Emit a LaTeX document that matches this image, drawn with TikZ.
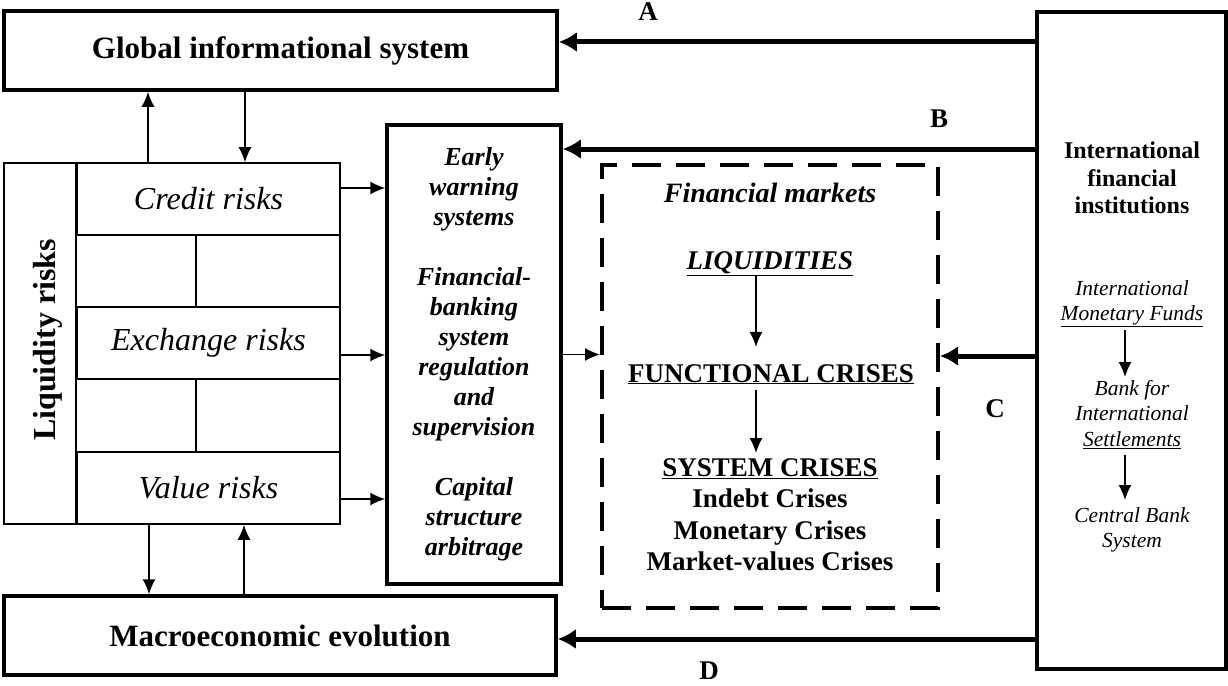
\documentclass[tikz,border=0pt]{standalone}
\usepackage{fontspec}
\setmainfont{Liberation Serif}
\usetikzlibrary{arrows.meta}

\begin{document}
\begin{tikzpicture}[x=1pt,y=-1pt]
	%\draw[help lines] (0,0) grid[step=50] (1228,685);
	\useasboundingbox (0,0) rectangle (1228,685);

	\tikzstyle{bigbox} = [draw,line width=3.5pt,inner sep=0pt]
	\tikzstyle{riskbox} = [draw,line width=1.6pt,inner sep=0pt,minimum width=263pt,minimum height=72pt,font=\fontsize{32}{36}\selectfont\itshape]
	\tikzstyle{vedge} = [-{Latex[length=15pt,width=13pt]},line width=1.5pt]
	\tikzstyle{bigedge} = [-{Latex[length=18pt,width=20pt]},line width=5pt]
	\tikzstyle{vline} = [line width=1.6pt]
	\tikzstyle{letter} = [anchor=base,inner sep=0pt,font=\fontsize{27}{30}\selectfont\bfseries]
	\tikzstyle{crisis} = [inner sep=0pt,font=\fontsize{27}{31.5}\selectfont\bfseries]
	\tikzstyle{smallit} = [inner sep=0pt,align=center,font=\fontsize{21.5}{25.5}\selectfont\itshape]

	\node[bigbox,minimum width=553pt,minimum height=79pt,font=\fontsize{31}{36}\selectfont\bfseries] (glob) at (280.5,50.5) {Global informational system};
	\node[bigbox,minimum width=552pt,minimum height=79pt,font=\fontsize{31}{36}\selectfont\bfseries] (macro) at (280,635.5) {Macroeconomic evolution};
	\node[bigbox,minimum width=189pt,minimum height=657pt] (inst) at (1131.5,340.5) {};
	\node[bigbox,minimum width=174pt,minimum height=459pt,align=center,font=\fontsize{26}{30}\selectfont\bfseries\itshape] (early) at (474,354.5) {Early\\warning\\systems\\[30pt]Financial-\\banking\\system\\regulation\\and\\supervision\\[30pt]Capital\\structure\\arbitrage};
	\node[bigbox,dashed,dash pattern=on 29pt off 15pt,line width=4pt,minimum width=336pt,minimum height=443pt] (market) at (770,386.5) {};

	\node[draw,line width=1.6pt,minimum width=336pt,minimum height=361pt] (liq) at (172,343.5) {};
	\node[rotate=90,inner sep=0pt,font=\fontsize{32}{36}\selectfont\bfseries] (liqtxt) at (48,340) {Liquidity risks};
	\node[riskbox] (credit) at (208.5,199) {Credit risks};
	\node[riskbox] (exch) at (208.5,343) {Exchange risks};
	\node[riskbox] (value) at (208.5,488) {Value risks};

	% financial markets
	\node[anchor=base,inner sep=0pt,font=\fontsize{28}{32}\selectfont\bfseries\itshape] (mtitle) at (770,202) {Financial markets};
	\node[anchor=base,inner sep=0pt,font=\fontsize{27}{30}\selectfont\bfseries\itshape] (liquid) at (770,269) {\underline{LIQUIDITIES}};
	\node[anchor=base,crisis] (funct) at (771,382) {\underline{FUNCTIONAL CRISES}};
	\node[anchor=north,crisis,align=center] (syscris) at (770,458) {\underline{SYSTEM CRISES}\\Indebt Crises\\Monetary Crises\\Market-values Crises};

	% institutions
	\node[anchor=north,inner sep=0pt,align=center,font=\fontsize{24}{27.5}\selectfont\bfseries] (insttxt) at (1132,142) {International\\financial\\institutions};
	\node[anchor=north,smallit] (imf) at (1132,280) {International\\\underline{Monetary Funds}};
	\node[anchor=north,smallit] (bis) at (1132,380) {Bank for\\International\\\underline{Settlements}};
	\node[anchor=north,smallit] (cbs) at (1132,507) {Central Bank\\System};

	\node[letter] (la) at (648,21) {A};
	\node[letter] (lb) at (939,127) {B};
	\node[letter] (lc) at (995,417) {C};
	\node[letter] (ld) at (709,679) {D};

	\draw ([yshift=8.5pt]glob.east -| inst.west) edge [bigedge] ([yshift=8.5pt]glob.east);
	\draw ([yshift=-25.75pt]early.north east -| inst.west) edge [bigedge] ([yshift=-25.75pt]early.north east);
	\draw ([yshift=30.5pt]market.east -| inst.west) edge [bigedge] ([yshift=30.5pt]market.east);
	\draw ([yshift=-3.5pt]macro.east -| inst.west) edge [bigedge] ([yshift=-3.5pt]macro.east);

	\draw ([xshift=-60.5pt]credit.north) edge [vedge] ([xshift=-60.5pt]credit.north |- glob.south);
	\draw ([xshift=36.5pt]credit.north |- glob.south) edge [vedge] ([xshift=36.5pt]credit.north);
	\draw ([xshift=-59.5pt]value.south) edge [vedge] ([xshift=-59.5pt]value.south |- macro.north);
	\draw ([xshift=35.5pt]value.south |- macro.north) edge [vedge] ([xshift=35.5pt]value.south);

	\draw ([yshift=11pt]credit.east) edge [vedge] ([yshift=11pt]credit.east -| early.west);
	\draw ([yshift=-12pt]exch.east) edge [vedge] ([yshift=-12pt]exch.east -| early.west);
	\draw ([yshift=-11pt]value.east) edge [vedge] ([yshift=-11pt]value.east -| early.west);
	\draw (early.east) edge [vedge] (early.east -| market.west);

	\draw[vline] ([xshift=-12.5pt]credit.south) -- ([xshift=-12.5pt]exch.north);
	\draw[vline] ([xshift=-12.5pt]exch.south) -- ([xshift=-12.5pt]value.north);
	\draw[vline] (credit.north west) -- (value.south west);

	\draw ([xshift=-14pt]liquid.south) edge [vedge,shorten >=17pt] ([xshift=-14pt]liquid.south |- funct.north);
	\draw ([xshift=-15pt]funct.south) edge [vedge,shorten <=6pt,shorten >=5pt] ([xshift=-15pt]funct.south |- syscris.north);
	\draw ([xshift=-7pt]imf.south) edge [vedge,shorten <=3pt,shorten >=3pt] ([xshift=-7pt]imf.south |- bis.north);
	\draw ([xshift=-7pt]bis.south) edge [vedge,shorten <=6pt,shorten >=7pt] ([xshift=-7pt]bis.south |- cbs.north);

\end{tikzpicture}
\end{document}
